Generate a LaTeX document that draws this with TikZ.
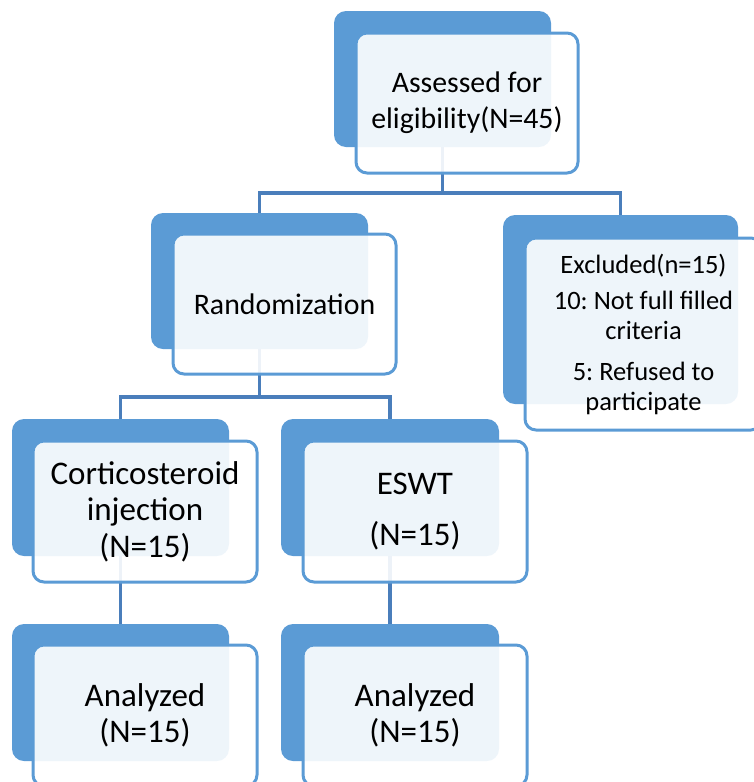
\documentclass[tikz,border=0pt]{standalone}
\usepackage{fontspec}
\setmainfont{Carlito}
\frenchspacing
\definecolor{boxblue}{HTML}{5B9BD5}
\definecolor{linkblue}{HTML}{4A7EBB}
\begin{document}
\begin{tikzpicture}[x=1pt,y=-1pt,
  backbox/.style={fill=boxblue, draw=none, rounded corners=12pt, inner sep=0pt},
  frontbox/.style={draw=boxblue, line width=3pt, fill=white, fill opacity=0.9, text opacity=1,
    rounded corners=11pt, align=center, inner sep=0pt, text=black,
    font=\fontsize{29.8}{36}\selectfont},
  bigtext/.style={font=\fontsize{33}{36.5}\selectfont},
  conn/.style={draw=linkblue, line width=3.5pt}
]
\useasboundingbox (0,0) rectangle (753,782);
% back boxes
\node[backbox, minimum width=217, minimum height=136] (topd) at (442.5,79) {};
\node[backbox, minimum width=217, minimum height=136] (randd) at (259.5,281) {};
\node[backbox, minimum width=235, minimum height=189] (excd) at (620.5,309.5) {};
\node[backbox, minimum width=217, minimum height=137] (cortd) at (120.5,487.5) {};
\node[backbox, minimum width=218, minimum height=137] (eswtd) at (390,487.5) {};
\node[backbox, minimum width=217, minimum height=137] (anald) at (120.5,692.5) {};
\node[backbox, minimum width=218, minimum height=137] (anard) at (390,692.5) {};
% connectors
\draw[conn] (topd.south) -- ++(0,46) -| (randd.north);
\draw[conn] (topd.south) -- ++(0,46) -| (excd.north);
\draw[conn] (randd.south) -- ++(0,48) -| (cortd.north);
\draw[conn] (randd.south) -- ++(0,48) -| (eswtd.north);
\draw[conn] (cortd.south) -- (anald.north);
\draw[conn] (eswtd.south) -- (anard.north);
% front boxes
\node[frontbox, minimum width=222, minimum height=140] (topf) at (467,103) {Assessed for\\eligibility(N=45)};
\node[frontbox, minimum width=223, minimum height=140] (randf) at (284.5,304) {Randomization};
\node[frontbox, minimum width=237, minimum height=192, font=\fontsize{26.5}{30}\selectfont] (excf) at (643.5,334)
  {Excluded(n=15)\\[6pt]10: Not full filled\\criteria\\[11pt]5: Refused to\\participate};
\node[frontbox, bigtext, minimum width=224, minimum height=141] (cortf) at (145,511.5) {Corticosteroid\\injection\\(N=15)};
\node[frontbox, bigtext, minimum width=224, minimum height=141] (eswtf) at (415,511.5) {ESWT\\[15pt](N=15)};
\node[frontbox, bigtext, minimum width=224, minimum height=141] (analf) at (145,715.5) {Analyzed\\(N=15)};
\node[frontbox, bigtext, minimum width=224, minimum height=141] (anarf) at (415,715.5) {Analyzed\\(N=15)};
\end{tikzpicture}
\end{document}
